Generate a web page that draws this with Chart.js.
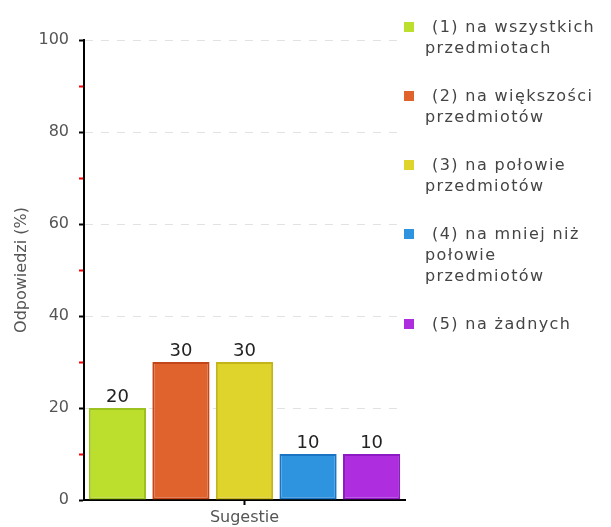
<!DOCTYPE html>
<html>
<head>
<meta charset="utf-8">
<script src="https://cdn.jsdelivr.net/npm/chart.js@4.4.0/dist/chart.umd.min.js"></script>
<style>
  html, body { margin: 0; padding: 0; background: #fff; }
  #wrap { position: relative; width: 611px; height: 527px; overflow: hidden; }
  #legend { position: absolute; left: 404px; top: 16px; font: 16px "DejaVu Sans"; color: #444; letter-spacing: 1.4px; }
  .item { position: relative; padding-left: 21px; margin-bottom: 27px; line-height: 21px; white-space: nowrap; }
  .item .box { position: absolute; left: 0; top: 6px; width: 10px; height: 10px; }
  .item .first { padding-left: 7px; }
</style>
</head>
<body>
<div id="wrap">
  <canvas id="chart" width="611" height="527"></canvas>
  <div id="legend"></div>
</div>
<script>
// === DATA ===
const categories = ['Sugestie'];
const seriesLabels = [
  ['(1) na wszystkich', 'przedmiotach'],
  ['(2) na większości', 'przedmiotów'],
  ['(3) na połowie', 'przedmiotów'],
  ['(4) na mniej niż', 'połowie', 'przedmiotów'],
  ['(5) na żadnych']
];
const seriesValues = [20, 30, 30, 10, 10];
const fillColors = ['#bcdf2e', '#e0632e', '#dfd42c', '#2f94df', '#ae2edf'];
const lineColors = ['#9dc11e', '#c2461a', '#c3b41a', '#1a74c3', '#8e1ac3'];
const yTitle = 'Odpowiedzi (%)';

const FONT = 'DejaVu Sans';

// labels over the bars
const valueLabels = {
  id: 'valueLabels',
  afterDatasetsDraw(chart) {
    const ctx = chart.ctx;
    ctx.save();
    ctx.font = '18px "' + FONT + '"';
    ctx.fillStyle = '#222';
    ctx.textAlign = 'center';
    ctx.textBaseline = 'alphabetic';
    chart.data.datasets.forEach((ds, i) => {
      chart.getDatasetMeta(i).data.forEach((bar, j) => ctx.fillText(ds.data[j], bar.x, bar.y - 6));
    });
    ctx.restore();
  }
};

const chart = new Chart(document.getElementById('chart'), {
  type: 'bar',
  data: {
    labels: categories,
    datasets: seriesValues.map((v, i) => ({
      label: seriesLabels[i].join(' '),
      data: [v],
      backgroundColor: fillColors[i],
      borderColor: lineColors[i],
      borderWidth: 2,
      borderSkipped: false,
      categoryPercentage: 0.99,
      barPercentage: 0.9
    }))
  },
  options: {
    responsive: false,
    animation: false,
    layout: { padding: { top: 40, right: 206, left: 0, bottom: 0 } },
    plugins: { legend: { display: false }, tooltip: { enabled: false } },
    scales: {
      x: {
        afterFit: s => { s.height = 27; },
        ticks: { color: '#555', font: { family: FONT, size: 16 }, padding: 3 },
        grid: { offset: false, color: 'rgba(0,0,0,0)', tickColor: '#000', tickLength: 5, tickWidth: 2 },
        border: { color: '#000', width: 2 }
      },
      y: {
        min: 0,
        max: 100,
        afterFit: s => { s.width = 84; },
        ticks: {
          stepSize: 10,
          color: '#555',
          font: { family: FONT, size: 16 },
          padding: 10,
          callback: v => v % 20 === 0 ? v : ''
        },
        grid: {
          color: c => (c.tick && c.tick.value % 20 === 0 && c.tick.value > 0) ? '#e2e2e2' : 'rgba(0,0,0,0)',
          tickColor: c => (c.tick && c.tick.value % 20 === 0) ? '#000' : '#f00',
          tickLength: 5,
          tickWidth: 2
        },
        border: { color: '#000', width: 2, dash: [8, 8] },
        title: { display: true, text: yTitle, color: '#555', font: { family: FONT, size: 16 }, padding: { top: 12, bottom: 0 } }
      }
    }
  },
  plugins: [valueLabels]
});

// html legend with wrapped lines
document.getElementById('legend').innerHTML = seriesLabels.map((lines, i) => `
  <div class="item">
    <span class="box" style="background:${fillColors[i]}"></span>
    ${lines.map((t, k) => `<div class="${k === 0 ? 'first' : ''}">${t}</div>`).join('')}
  </div>`).join('');
</script>
</body>
</html>
